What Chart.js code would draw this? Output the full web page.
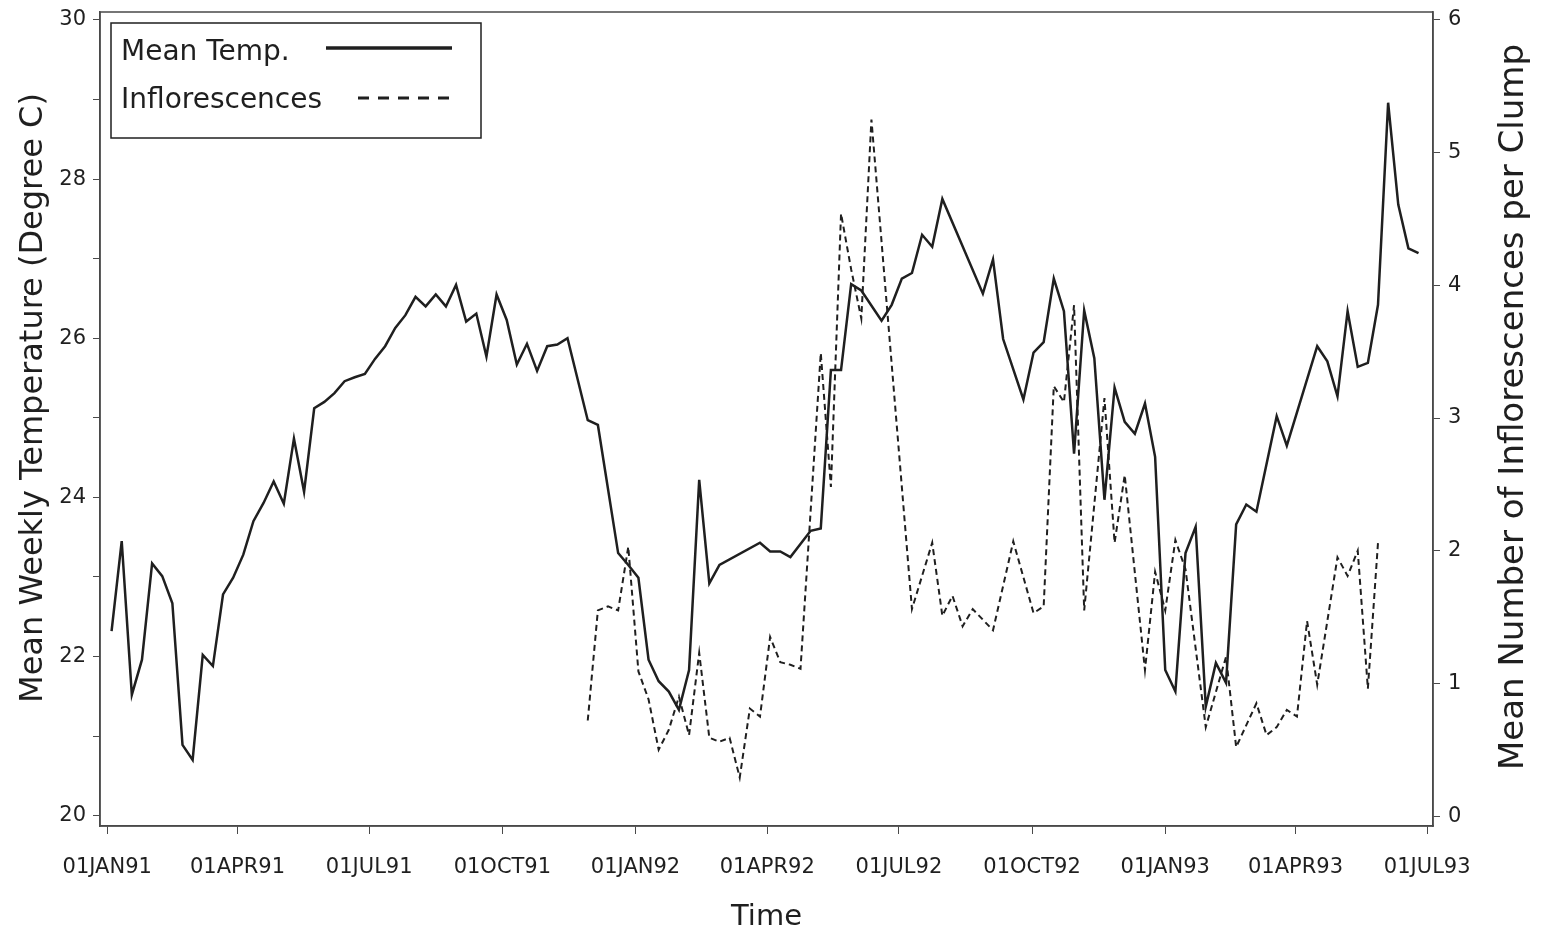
<!DOCTYPE html>
<html>
<head>
<meta charset="utf-8">
<title>Mean weekly temperature and inflorescences</title>
<script src="https://cdn.jsdelivr.net/npm/chart.js@4.4.1/dist/chart.umd.min.js"></script>
<style>
  html, body { margin: 0; padding: 0; background: #fff; }
  #wrap { width: 1541px; height: 935px; }
</style>
</head>
<body>
<div id="wrap"><canvas id="chart" width="1541" height="935"></canvas></div>
<script>
// weeks counted from the first reading (04JAN91 = day 3 of 1991)
const firstDay = 3;

// Mean weekly temperature (Degree C)
const tempWeek = [0, 1, 2, 3, 4, 5, 6, 7, 8, 9, 10, 11, 12, 13, 14, 15, 16, 17, 18, 19,
  20, 21, 22, 23, 24, 25, 26, 27, 28, 29, 30, 31, 32, 33, 34, 35, 36, 37, 38, 39,
  40, 41, 42, 43, 44, 45, 47, 48, 50, 51, 52, 53, 54, 55, 56, 57, 58, 59, 60, 64,
  65, 66, 67, 69, 70, 71, 72, 73, 74, 76, 77, 78, 79, 80, 81, 82, 86, 87, 88, 90,
  91, 92, 93, 94, 95, 96, 97, 98, 99, 100, 101, 102, 103, 104, 105, 106, 107, 108, 109, 110,
  111, 112, 113, 115, 116, 119, 120, 121, 122, 123, 124, 125, 126, 127, 128, 129];
const tempMean = [22.32, 23.45, 21.52, 21.96, 23.17, 23.01, 22.67, 20.89, 20.70, 22.02,
  21.88, 22.78, 22.99, 23.28, 23.70, 23.93, 24.20, 23.92, 24.74, 24.07,
  25.12, 25.20, 25.31, 25.46, 25.51, 25.55, 25.74, 25.90, 26.13, 26.29,
  26.52, 26.40, 26.55, 26.40, 26.67, 26.21, 26.31, 25.77, 26.55, 26.23,
  25.67, 25.93, 25.59, 25.90, 25.92, 26.00, 24.97, 24.91, 23.30, 23.15,
  22.99, 21.96, 21.69, 21.56, 21.33, 21.83, 24.22, 22.92, 23.15, 23.43,
  23.32, 23.32, 23.25, 23.58, 23.61, 25.60, 25.60, 26.68, 26.60, 26.22,
  26.42, 26.75, 26.82, 27.30, 27.15, 27.75, 26.56, 26.99, 25.99, 25.23,
  25.82, 25.95, 26.75, 26.34, 24.55, 26.35, 25.75, 23.97, 25.38, 24.95,
  24.80, 25.18, 24.51, 21.83, 21.56, 23.30, 23.63, 21.37, 21.92, 21.67,
  23.66, 23.91, 23.82, 25.02, 24.65, 25.90, 25.71, 25.27, 26.34, 25.64,
  25.69, 26.42, 28.96, 27.68, 27.13, 27.07];

// Mean number of inflorescences per clump
const inflWeek = [47, 48, 49, 50, 51, 52, 53, 54, 55, 56, 57, 58, 59, 60, 61, 62, 63, 64, 65, 66,
  67, 68, 70, 71, 72, 73, 74, 75, 79, 81, 82, 83, 84, 85, 87, 89, 91, 92, 93, 94,
  95, 96, 98, 99, 100, 102, 103, 104, 105, 106, 108, 110, 111, 113, 114, 115, 116, 117, 118, 119,
  121, 122, 123, 124, 125];
const inflMean = [0.72, 1.55, 1.58, 1.55, 2.03, 1.09, 0.88, 0.50, 0.65, 0.90,
  0.61, 1.23, 0.59, 0.56, 0.59, 0.29, 0.81, 0.75, 1.35, 1.16,
  1.14, 1.11, 3.49, 2.48, 4.54, 4.12, 3.75, 5.25, 1.56, 2.06,
  1.51, 1.66, 1.43, 1.56, 1.40, 2.07, 1.53, 1.58, 3.24, 3.12,
  3.85, 1.55, 3.15, 2.06, 2.57, 1.10, 1.84, 1.55, 2.08, 1.86,
  0.67, 1.20, 0.52, 0.85, 0.61, 0.67, 0.80, 0.75, 1.47, 0.99,
  1.95, 1.81, 2.00, 0.96, 2.06];

// x axis ticks: days since 01JAN91
const tickDays = [0, 90, 181, 273, 365, 456, 547, 639, 731, 821, 912];
const tickLabels = ["01JAN91", "01APR91", "01JUL91", "01OCT91", "01JAN92", "01APR92",
  "01JUL92", "01OCT92", "01JAN93", "01APR93", "01JUL93"];
const tempTicks = [20, 21, 22, 23, 24, 25, 26, 27, 28, 29, 30];
const inflTicks = [0, 1, 2, 3, 4, 5, 6];

const toPoints = (weeks, vals) => weeks.map((w, i) => ({ x: firstDay + 7 * w, y: vals[i] }));

const ink = "#1f1f1f";
const axisInk = "#4a4a4a";
const fontFam = "'DejaVu Sans', 'Liberation Sans', sans-serif";

// no extra room for the half labels at the ends of the axes
const noPad = (s) => {
  s.paddingTop = 0;
  s.paddingBottom = 0;
  s.paddingLeft = 0;
  s.paddingRight = 0;
};

// frame, legend and the two vertical titles
const extras = {
  id: "extras",
  afterDraw(chart) {
    const { ctx, chartArea: a } = chart;
    ctx.save();
    ctx.strokeStyle = axisInk;
    ctx.lineWidth = 1.5;
    ctx.strokeRect(a.left, a.top, a.right - a.left, a.bottom - a.top);

    // legend box
    ctx.strokeStyle = ink;
    ctx.strokeRect(111, 23, 370, 115);
    ctx.fillStyle = ink;
    ctx.font = "28px " + fontFam;
    ctx.textBaseline = "alphabetic";
    ctx.textAlign = "left";
    ctx.fillText(chart.data.datasets[0].label, 121, 60);
    ctx.fillText(chart.data.datasets[1].label, 121, 108);
    ctx.lineWidth = 3.5;
    ctx.beginPath();
    ctx.moveTo(326, 48);
    ctx.lineTo(452, 48);
    ctx.stroke();
    ctx.lineWidth = 3;
    ctx.setLineDash([11, 9]);
    ctx.beginPath();
    ctx.moveTo(358, 98);
    ctx.lineTo(455, 98);
    ctx.stroke();
    ctx.setLineDash([]);

    // vertical axis titles (both read bottom to top)
    ctx.textAlign = "center";
    ctx.textBaseline = "middle";
    ctx.font = "32px " + fontFam;
    ctx.save();
    ctx.translate(34, 398);
    ctx.rotate(-Math.PI / 2);
    ctx.fillText("Mean Weekly Temperature (Degree C)", 0, 0);
    ctx.restore();
    ctx.font = "34px " + fontFam;
    ctx.save();
    ctx.translate(1514, 407);
    ctx.rotate(-Math.PI / 2);
    ctx.fillText("Mean Number of Inflorescences per Clump", 0, 0);
    ctx.restore();
    ctx.restore();
  }
};

Chart.defaults.font.family = fontFam;
Chart.defaults.color = ink;

const ctx = document.getElementById("chart").getContext("2d");
const chart = new Chart(ctx, {
  type: "line",
  data: {
    datasets: [
      {
        label: "Mean Temp.",
        data: toPoints(tempWeek, tempMean),
        yAxisID: "y",
        borderColor: ink,
        borderWidth: 2.5,
        pointRadius: 0,
        tension: 0,
        fill: false,
      },
      {
        label: "Inflorescences",
        data: toPoints(inflWeek, inflMean),
        yAxisID: "y1",
        borderColor: ink,
        borderWidth: 2,
        borderDash: [6, 4],
        pointRadius: 0,
        tension: 0,
        fill: false,
      },
    ],
  },
  options: {
    responsive: false,
    animation: false,
    layout: { padding: { top: 12, left: 0, right: 0, bottom: 0 } },
    plugins: {
      legend: { display: false },
      tooltip: { enabled: false },
    },
    scales: {
      x: {
        type: "linear",
        min: -5,
        max: 916,
        afterBuildTicks: (axis) => {
          axis.ticks = tickDays.map((v) => ({ value: v }));
        },
        afterFit: (s) => { s.height = 109; noPad(s); },
        ticks: {
          autoSkip: false,
          maxRotation: 0,
          padding: 21,
          font: { size: 21 },
          callback: (v) => tickLabels[tickDays.indexOf(v)] || "",
        },
        grid: { drawOnChartArea: false, tickLength: 8, color: axisInk },
        border: { color: axisInk, width: 1.5 },
        title: {
          display: true,
          text: "Time",
          font: { size: 29 },
          padding: { top: 0, bottom: 0 },
        },
      },
      y: {
        position: "left",
        min: 19.87,
        max: 30.1,
        afterBuildTicks: (axis) => {
          axis.ticks = tempTicks.map((v) => ({ value: v }));
        },
        afterFit: (s) => { s.width = 100; noPad(s); },
        ticks: {
          autoSkip: false,
          padding: 7,
          font: { size: 21 },
          callback: (v) => (v % 2 === 0 ? v : ""),
        },
        grid: { drawOnChartArea: false, tickLength: 7, color: axisInk },
        border: { color: axisInk, width: 1.5 },
      },
      y1: {
        position: "right",
        min: -0.075,
        max: 6.06,
        afterBuildTicks: (axis) => {
          axis.ticks = inflTicks.map((v) => ({ value: v }));
        },
        afterFit: (s) => { s.width = 108; noPad(s); },
        ticks: {
          autoSkip: false,
          padding: 8,
          font: { size: 21 },
        },
        grid: { drawOnChartArea: false, tickLength: 7, color: axisInk },
        border: { color: axisInk, width: 1.5 },
      },
    },
  },
  plugins: [extras],
});
</script>
</body>
</html>
